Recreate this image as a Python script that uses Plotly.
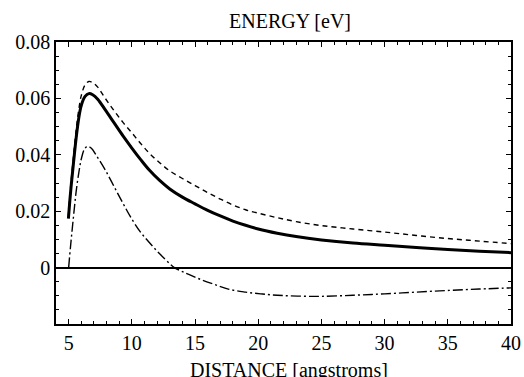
import plotly.graph_objects as go

# ---- data ----
distance_solid = [4.98, 5.1, 5.2, 5.3, 5.45, 5.6, 5.8, 6.0, 6.3, 6.6, 6.9, 7.3, 7.9, 8.6, 9.3, 10.0, 10.7, 11.4, 12.2, 13.0, 14.0, 15.0, 16.0, 17.0, 18.0, 19.0, 20.0, 21.5, 23.0, 25, 27.5, 30, 32.5, 35, 37.5, 40]
energy_solid = [0.0174, 0.0240, 0.0290, 0.0334, 0.0400, 0.0462, 0.0530, 0.0575, 0.0607, 0.0617, 0.0613, 0.0597, 0.0559, 0.0513, 0.0467, 0.0424, 0.0383, 0.0345, 0.0309, 0.0279, 0.0250, 0.0226, 0.0203, 0.0183, 0.0165, 0.0150, 0.0137, 0.0122, 0.0110, 0.0098, 0.0087, 0.0079, 0.0071, 0.0064, 0.0058, 0.0053]

distance_dash = [4.98, 5.1, 5.2, 5.3, 5.45, 5.6, 5.8, 6.0, 6.3, 6.6, 6.9, 7.3, 7.9, 8.6, 9.3, 10.0, 10.7, 11.4, 12.2, 13.0, 14.0, 15.0, 16.0, 17.0, 18.0, 19.0, 20.0, 21.5, 23.0, 25, 27.5, 30, 32.5, 35, 37.5, 40]
energy_dash = [0.0185, 0.0255, 0.0308, 0.0356, 0.0425, 0.0490, 0.0560, 0.0610, 0.0648, 0.0660, 0.0656, 0.0640, 0.0600, 0.0556, 0.0515, 0.0478, 0.0440, 0.0405, 0.0372, 0.0343, 0.0316, 0.0291, 0.0266, 0.0243, 0.0222, 0.0205, 0.0193, 0.0177, 0.0163, 0.0149, 0.0137, 0.0126, 0.0114, 0.0103, 0.0094, 0.0085]

distance_dashdot = [5.0, 5.15, 5.3, 5.45, 5.6, 5.8, 6.0, 6.25, 6.5, 6.8, 7.2, 7.9, 8.6, 9.3, 10.0, 10.7, 11.4, 12.2, 13.0, 13.37, 14.0, 14.55, 15.5, 16.5, 17.7, 19.0, 20.2, 21.5, 23.1, 25, 27.5, 30, 32.5, 35, 37.5, 40]
energy_dashdot = [0.0, 0.0075, 0.0144, 0.0210, 0.0272, 0.0335, 0.0385, 0.0420, 0.0430, 0.0423, 0.0397, 0.0346, 0.0287, 0.0228, 0.0172, 0.0125, 0.0088, 0.0049, 0.0014, 0.0, -0.0014, -0.0025, -0.0043, -0.0059, -0.0077, -0.0087, -0.0093, -0.0098, -0.0101, -0.0102, -0.0098, -0.0093, -0.0087, -0.0081, -0.0076, -0.0072]

x_tick_vals = [5, 10, 15, 20, 25, 30, 35, 40]
y_tick_vals = [0, 0.02, 0.04, 0.06, 0.08]
y_tick_text = ["0", "0.02", "0.04", "0.06", "0.08"]

title_text = "ENERGY [eV]"
x_title_text = "DISTANCE [angstroms]"

FONT = "Liberation Serif"

fig = go.Figure()
fig.add_trace(go.Scatter(x=distance_dash, y=energy_dash, mode="lines",
                         line=dict(color="black", width=1.4, dash="5px,4px", shape="spline", smoothing=1.0)))
fig.add_trace(go.Scatter(x=distance_dashdot, y=energy_dashdot, mode="lines",
                         line=dict(color="black", width=1.4, dash="10px,3px,2px,3px", shape="spline", smoothing=1.0)))
fig.add_trace(go.Scatter(x=distance_solid, y=energy_solid, mode="lines",
                         line=dict(color="black", width=3, shape="spline", smoothing=1.0)))

axis_common = dict(showline=True, linecolor="black", linewidth=1.5, mirror="ticks",
                   ticks="inside", ticklen=5, tickwidth=1, tickcolor="black", automargin=False,
                   showgrid=False, tickfont=dict(family=FONT, size=20, color="black"))

fig.update_xaxes(range=[4, 40], tickmode="array", tickvals=x_tick_vals, zeroline=False,
                 minor=dict(ticks="inside", dtick=1, tick0=0, ticklen=3, tickcolor="black"),
                 **axis_common)
fig.update_yaxes(range=[-0.02, 0.08], tickmode="array", tickvals=y_tick_vals, ticktext=y_tick_text,
                 zeroline=True, zerolinecolor="black", zerolinewidth=1.5,
                 minor=dict(ticks="inside", dtick=0.005, tick0=0, ticklen=3, tickcolor="black"),
                 **axis_common)

plot_w = 524 - 56 - 13

fig.update_layout(
    width=524, height=377,
    margin=dict(l=56, r=13, t=42, b=53, autoexpand=False),
    paper_bgcolor="white", plot_bgcolor="white",
    showlegend=False,
    font=dict(family=FONT, size=20, color="black"),
    annotations=[
        dict(text=title_text, x=(290 - 56) / plot_w, xref="paper", y=1, yref="paper", showarrow=False,
             xanchor="center", yanchor="bottom", yshift=8, font=dict(family=FONT, size=20)),
        dict(text=x_title_text, x=(288.5 - 56) / plot_w, xref="paper", y=0, yref="paper", showarrow=False,
             xanchor="center", yanchor="top", yshift=-33, font=dict(family=FONT, size=20)),
    ],
)

fig.write_html("out.html", config={"displayModeBar": False},
               post_script="document.body.style.margin='0';document.body.style.overflow='hidden';")
